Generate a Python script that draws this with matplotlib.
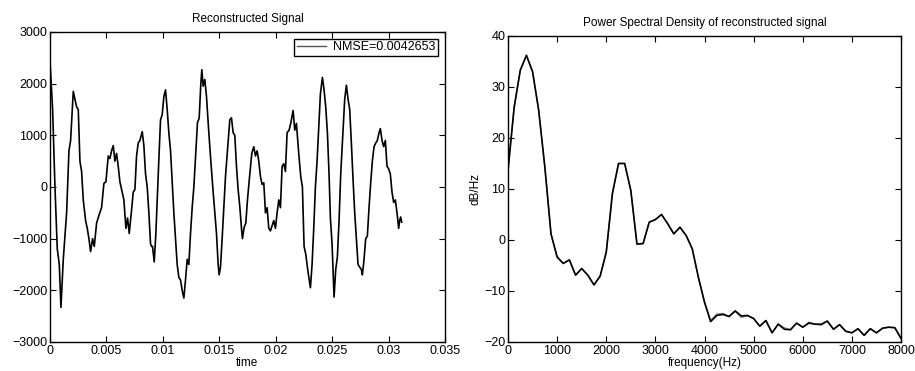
import numpy as np
import matplotlib
matplotlib.use("Agg")
import matplotlib.pyplot as plt

plt.rcParams['font.family'] = ['Liberation Sans', 'DejaVu Sans']
plt.rcParams['font.size'] = 9

# reconstructed signal (time in ms, amplitude)
t_ms = [0, 0.236, 0.443, 0.649, 0.826, 0.974, 1.180, 1.476, 1.682, 1.830,
        2.066, 2.213, 2.361, 2.508, 2.656, 2.804, 2.951, 3.158, 3.305, 3.453,
        3.600, 3.777, 3.925, 4.132, 4.338, 4.574, 4.781, 4.958, 5.164, 5.312,
        5.460, 5.607, 5.755, 5.902, 6.050, 6.197, 6.345, 6.551, 6.728, 6.876,
        7.024, 7.230, 7.378, 7.525, 7.673, 7.820, 7.968, 8.175, 8.322, 8.470,
        8.617, 8.765, 8.912, 9.001, 9.089, 9.237, 9.384, 9.503, 9.680, 9.798,
        9.945, 10.093, 10.240, 10.388, 10.535, 10.683, 10.831, 10.978, 11.126, 11.273,
        11.421, 11.568, 11.716, 11.863, 12.011, 12.159, 12.306, 12.454, 12.601, 12.749,
        12.926, 13.073, 13.221, 13.368, 13.457, 13.575, 13.722, 13.870, 14.077, 14.254,
        14.460, 14.608, 14.756, 14.903, 14.992, 15.110, 15.257, 15.405, 15.552, 15.729,
        15.936, 16.083, 16.231, 16.379, 16.526, 16.674, 16.821, 16.969, 17.057, 17.205,
        17.353, 17.500, 17.707, 17.884, 18.061, 18.209, 18.356, 18.504, 18.651, 18.799,
        18.946, 19.094, 19.241, 19.389, 19.536, 19.684, 19.831, 19.979, 20.127, 20.274,
        20.422, 20.569, 20.717, 20.864, 21.012, 21.189, 21.336, 21.543, 21.691, 21.838,
        22.045, 22.222, 22.369, 22.517, 22.664, 22.871, 23.078, 23.225, 23.373, 23.520,
        23.668, 23.815, 23.963, 24.140, 24.288, 24.435, 24.583, 24.730, 24.848, 24.996,
        25.173, 25.320, 25.468, 25.616, 25.763, 25.970, 26.117, 26.265, 26.412, 26.560,
        26.707, 26.855, 27.003, 27.150, 27.298, 27.445, 27.593, 27.681, 27.829, 27.976,
        28.124, 28.272, 28.419, 28.567, 28.714, 28.862, 29.009, 29.157, 29.275, 29.423,
        29.570, 29.718, 29.865, 30.013, 30.160, 30.308, 30.455, 30.603, 30.751, 30.898,
        30.987, 31.075, 31.164]
signal = [2450, 1500, 0, -1200, -1500, -2330, -1400, -500, 700, 900,
          1850, 1700, 1550, 1500, 500, 300, -250, -650, -800, -1000,
          -1250, -1000, -1150, -700, -550, -400, 70, 100, 600, 550,
          700, 800, 500, 650, 400, 100, -50, -250, -800, -600,
          -900, -450, -100, -50, 600, 850, 900, 1070, 800, 250,
          0, -500, -1100, -1150, -1150, -1450, -900, -250, 700, 1300,
          1400, 1750, 1880, 1500, 1050, 700, 100, -500, -1000, -1500,
          -1750, -1800, -2000, -2150, -1800, -1400, -1500, -900, -400, 0,
          700, 1250, 1330, 2000, 2270, 1950, 2080, 1750, 1050, 500,
          -100, -500, -900, -1500, -1700, -1550, -1000, -400, 200, 700,
          1300, 1340, 1050, 1000, 400, -50, -380, -800, -1000, -780,
          -700, -250, 250, 650, 780, 600, 700, 500, 200, 50,
          80, -500, -400, -800, -850, -750, -650, -800, -500, -250,
          -400, 400, 450, 300, 1050, 1100, 1230, 1480, 1100, 1230,
          650, 200, 0, -1150, -1300, -1650, -1950, -1500, -800, 0,
          500, 1150, 1800, 2120, 1880, 1550, 1050, 250, -600, -1100,
          -2130, -1600, -1350, -650, 250, 1100, 1700, 1970, 1700, 1500,
          850, 150, -500, -1000, -1500, -1550, -1600, -1700, -1400, -1000,
          -950, -400, 80, 500, 780, 850, 900, 1050, 1130, 900,
          780, 900, 400, 350, 250, -100, -300, -250, -500, -800,
          -650, -580, -680]

# power spectral density, 125 Hz bins
freq = np.arange(0, 8001, 125)
psd_rec = [13.7, 26.0, 33.3, 36.2, 33.0, 25.4, 14.3, 1.2, -3.3, -4.6,
           -3.9, -6.9, -5.6, -6.9, -8.8, -7.1, -2.4, 9.1, 15.0, 15.0,
           9.7, -0.8, -0.7, 3.5, 4.0, 5.0, 3.2, 1.2, 2.5, 0.9,
           -1.7, -7.3, -12.2, -16.0, -14.8, -14.6, -15.0, -13.9, -14.9, -14.8,
           -15.4, -16.9, -15.8, -18.2, -16.5, -17.5, -17.6, -16.3, -17.1, -16.3,
           -16.5, -16.6, -15.9, -17.5, -16.6, -17.9, -18.2, -17.4, -18.7, -17.4,
           -18.2, -17.3, -17.1, -17.2, -19.3]
psd_orig = [13.7, 26.0, 33.3, 36.2, 33.0, 25.4, 14.3, 1.2, -3.5, -4.6,
            -3.9, -6.9, -5.6, -6.9, -8.8, -7.1, -2.4, 9.1, 15.0, 15.0,
            9.7, -0.8, -0.7, 3.5, 4.0, 5.0, 3.2, 1.2, 2.5, 0.9,
            -1.7, -7.3, -12.2, -15.8, -14.5, -14.4, -15.0, -14.0, -15.2, -14.8,
            -15.4, -16.9, -15.8, -18.2, -16.5, -17.2, -17.6, -16.3, -17.1, -16.1,
            -16.5, -16.4, -15.9, -17.5, -16.6, -17.9, -18.2, -17.4, -18.7, -17.4,
            -18.2, -17.3, -17.1, -17.2, -19.3]

nmse = 0.0042653

time_ticks = [0, 0.005, 0.01, 0.015, 0.02, 0.025, 0.03, 0.035]
time_labels = ['0', '0.005', '0.01', '0.015', '0.02', '0.025', '0.03', '0.035']
amp_ticks = [-3000, -2000, -1000, 0, 1000, 2000, 3000]
freq_ticks = [0, 1000, 2000, 3000, 4000, 5000, 6000, 7000, 8000]
db_ticks = [-20, -10, 0, 10, 20, 30, 40]

fig = plt.figure(figsize=(9.15, 3.71), dpi=100)
ax1 = fig.add_axes([0.0546, 0.0782, 0.4317, 0.8356])
ax2 = fig.add_axes([0.5552, 0.0782, 0.4295, 0.8248])

def matlab_style(ax):
    ax.tick_params(direction='in', top=True, right=True, length=4, width=0.8,
                   labelsize=9, pad=2)
    for s in ax.spines.values():
        s.set_linewidth(1.0)

t = np.array(t_ms) / 1000.0
ax1.plot(t, signal, color='black', lw=1.2)
ax1.set_xlim(0, 0.035)
ax1.set_ylim(-3000, 3000)
ax1.set_xticks(time_ticks)
ax1.set_xticklabels(time_labels)
ax1.set_yticks(amp_ticks)
ax1.set_title('Reconstructed Signal', fontsize=8.5, pad=7)
ax1.set_xlabel('time', fontsize=8.5, labelpad=0.5)
matlab_style(ax1)
h = plt.Line2D([], [], color='#555555', lw=1.0)
leg = ax1.legend([h], ['NMSE=%g' % nmse], loc='upper right', fontsize=9,
                 fancybox=False, framealpha=1, edgecolor='black',
                 handlelength=2.3, borderpad=0.2, borderaxespad=0.55,
                 handletextpad=0.6)
leg.get_frame().set_linewidth(1.0)

ax2.plot(freq, psd_orig, color='#888888', lw=1.0)
ax2.plot(freq, psd_rec, color='black', lw=1.2)
ax2.set_xlim(0, 8000)
ax2.set_ylim(-20, 40)
ax2.set_xticks(freq_ticks)
ax2.set_yticks(db_ticks)
ax2.set_title('Power Spectral Density of reconstructed signal', fontsize=8.5, pad=7)
ax2.set_xlabel('frequency(Hz)', fontsize=8.5, labelpad=0.5)
ax2.set_ylabel('dB/Hz', fontsize=8.5, labelpad=2)
matlab_style(ax2)

fig.savefig('out.png', dpi=100)
